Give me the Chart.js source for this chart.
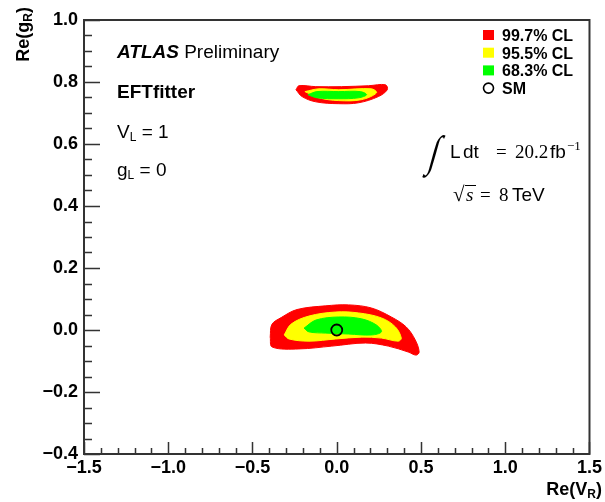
<!DOCTYPE html>
<html>
<head>
<meta charset="utf-8">
<script src="https://cdn.jsdelivr.net/npm/chart.js@4.4.0/dist/chart.umd.min.js"></script>
<style>
html, body { margin: 0; padding: 0; background: #fff; }
#wrap { width: 605px; height: 502px; }
</style>
</head>
<body>
<div id="wrap"><canvas id="chart" width="605" height="502"></canvas></div>
<script>
"use strict"

// konturer i (Re(VR), Re(gR))
const red997Low = [[-0.395,-0.023],[-0.385,0.018],[-0.33,0.040],[-0.236,0.066],[-0.065,0.078],[0.071,0.081],[0.206,0.071],[0.324,0.042],[0.412,0.010],[0.466,-0.032],[0.489,-0.071],[0.471,-0.081],[0.424,-0.071],[0.306,-0.052],[0.171,-0.042],[-0.029,-0.052],[-0.224,-0.061],[-0.383,-0.055]];
const yel955Low = [[-0.312,-0.016],[-0.271,0.019],[-0.165,0.045],[-0.006,0.058],[0.130,0.055],[0.265,0.039],[0.348,0.010],[0.383,-0.026],[0.365,-0.036],[0.265,-0.026],[0.147,-0.023],[-0.006,-0.029],[-0.165,-0.036],[-0.283,-0.029]];
const grn683Low = [[-0.194,0.006],[-0.124,0.032],[0.012,0.042],[0.147,0.036],[0.236,0.016],[0.265,-0.006],[0.206,-0.016],[0.071,-0.013],[-0.065,-0.010],[-0.165,-0.006]];

const red997High = [[-0.242,0.775],[-0.224,0.788],[-0.124,0.785],[0.029,0.785],[0.189,0.788],[0.289,0.791],[0.300,0.775],[0.247,0.753],[0.130,0.733],[0.012,0.730],[-0.124,0.736],[-0.206,0.753]];
const yel955High = [[-0.189,0.769],[-0.106,0.778],[0.012,0.775],[0.206,0.778],[0.236,0.765],[0.147,0.743],[0.012,0.740],[-0.106,0.749]];
const grn683High = [[-0.171,0.759],[-0.118,0.769],[0.012,0.769],[0.141,0.769],[0.177,0.759],[0.130,0.749],[0.012,0.746],[-0.118,0.749]];

const smPoint = [[0, 0]];

const clLabels = ['99.7% CL', '95.5% CL', '68.3% CL'];
const clColors = ['#ff0000', '#ffff00', '#00ff00'];
const smLabel = 'SM';

const xTicks = [-1.5, -1.0, -0.5, 0.0, 0.5, 1.0, 1.5];
const yTicks = [-0.4, -0.2, 0.0, 0.2, 0.4, 0.6, 0.8, 1.0];

const sans = '"Liberation Sans", Arial, sans-serif';
const serif = '"Liberation Serif", "Times New Roman", serif';
const frameColor = '#333';

function fmt(v) {
  const s = Math.abs(v).toFixed(1);
  return v < -1e-9 ? '\u2212' + s : s;
}

// en sluten kontur som fylld linje
function contour(arr, color, order) {
  const pts = arr.map(p => ({ x: p[0], y: p[1] }));
  pts.push(pts[0]);
  return {
    data: pts,
    showLine: true,
    fill: 'shape',
    backgroundColor: color,
    borderColor: color,
    borderWidth: 1,
    pointRadius: 0,
    tension: 0.35,
    order: order
  };
}

// skriv text i delar med olika typsnitt
function runs(ctx, x, y, parts) {
  let cx = x;
  for (const [t, f, dy] of parts) {
    ctx.font = f;
    ctx.fillText(t, cx, y + (dy || 0));
    cx += ctx.measureText(t).width;
  }
  return cx;
}
function runsWidth(ctx, parts) {
  let w = 0;
  for (const [t, f] of parts) { ctx.font = f; w += ctx.measureText(t).width; }
  return w;
}

const framePlugin = {
  id: 'frame',
  afterDraw(chart) {
    const ctx = chart.ctx;
    const a = chart.chartArea;
    const xs = chart.scales.x, ys = chart.scales.y;
    ctx.save();
    ctx.strokeStyle = frameColor;
    ctx.lineWidth = 1.5;
    // små och stora streck
    ctx.beginPath();
    for (let i = 0; i <= 30; i++) {
      const px = Math.round(xs.getPixelForValue(-1.5 + i * 0.1)) + 0.5;
      const len = i % 5 === 0 ? 12 : 6;
      ctx.moveTo(px, a.bottom);
      ctx.lineTo(px, a.bottom - len);
    }
    for (let i = 0; i <= 28; i++) {
      const py = Math.round(ys.getPixelForValue(-0.4 + i * 0.05)) + 0.5;
      const len = i % 4 === 0 ? 16 : 8;
      ctx.moveTo(a.left, py);
      ctx.lineTo(a.left + len, py);
    }
    ctx.stroke();
    ctx.lineWidth = 2;
    ctx.strokeRect(a.left, a.top, a.right - a.left, a.bottom - a.top);

    ctx.fillStyle = '#000';
    ctx.textBaseline = 'alphabetic';
    ctx.textAlign = 'left';

    // vänstra texterna
    runs(ctx, 117, 58, [['ATLAS', 'italic bold 19px ' + sans], [' Preliminary', '19px ' + sans]]);
    runs(ctx, 117, 98, [['EFTfitter', 'bold 19px ' + sans]]);
    runs(ctx, 117, 138, [['V', '19px ' + sans], ['L', '12px ' + sans, 3], [' = 1', '19px ' + sans]]);
    runs(ctx, 117, 176, [['g', '19px ' + sans], ['L', '12px ' + sans, 3], [' = 0', '19px ' + sans]]);

    // integral och energi
    ctx.save();
    ctx.translate(427, 166);
    ctx.transform(1, 0, -0.28, 1, 0, 0);
    ctx.scale(1.1, 1.55);
    ctx.font = '28px ' + serif;
    ctx.fillText('\u222B', 0, 0);
    ctx.restore();
    ctx.font = '19px ' + sans;
    ctx.fillText('L', 450, 158);
    ctx.fillText('dt', 463, 158);
    ctx.font = '19px ' + serif;
    ctx.fillText('=', 496, 158);
    ctx.fillText('20.2', 515, 158);
    ctx.font = '19px ' + sans;
    ctx.fillText('fb', 550, 158);
    ctx.font = '13px ' + serif;
    ctx.fillText('\u22121', 567, 150);

    ctx.font = '21px ' + serif;
    ctx.fillText('\u221A', 453, 201);
    ctx.lineWidth = 1;
    ctx.strokeStyle = '#000';
    ctx.beginPath();
    ctx.moveTo(465, 185.5);
    ctx.lineTo(476, 185.5);
    ctx.stroke();
    ctx.font = 'italic 19px ' + serif;
    ctx.fillText('s', 466, 201);
    ctx.font = '19px ' + serif;
    ctx.fillText('=', 480, 201);
    ctx.fillText('8', 499, 201);
    ctx.font = '19px ' + sans;
    ctx.fillText('TeV', 512, 201);

    // förklaring
    const lf = 'bold 16px ' + sans;
    ctx.font = lf;
    clLabels.forEach((lab, i) => {
      const cy = 35 + i * 17.7;
      ctx.fillStyle = clColors[i];
      ctx.fillRect(483, cy - 5, 11, 10);
      ctx.fillStyle = '#000';
      ctx.fillText(lab, 502, cy + 6);
    });
    const sy = 35 + 3 * 17.7;
    ctx.beginPath();
    ctx.arc(488.5, sy, 5, 0, Math.PI * 2);
    ctx.lineWidth = 1.6;
    ctx.strokeStyle = '#000';
    ctx.stroke();
    ctx.fillText(smLabel, 502, sy + 6);

    // axeltitlar
    const xt = [['Re(V', 'bold 18px ' + sans], ['R', 'bold 12px ' + sans, 3], [')', 'bold 18px ' + sans]];
    runs(ctx, 602 - runsWidth(ctx, xt), 495, xt);
    const yt = [['Re(g', 'bold 18px ' + sans], ['R', 'bold 12px ' + sans, 3], [')', 'bold 18px ' + sans]];
    const yw = runsWidth(ctx, yt);
    ctx.save();
    ctx.translate(29, 7 + yw);
    ctx.rotate(-Math.PI / 2);
    runs(ctx, 0, 0, yt);
    ctx.restore();
    ctx.restore();
  }
};

new Chart(document.getElementById('chart'), {
  type: 'scatter',
  data: {
    datasets: [
      {
        data: smPoint.map(p => ({ x: p[0], y: p[1] })),
        pointRadius: 5.5,
        pointBorderWidth: 1.8,
        borderColor: '#000',
        backgroundColor: 'rgba(0,0,0,0)',
        order: 0
      },
      contour(grn683Low, clColors[2], 1),
      contour(grn683High, clColors[2], 1),
      contour(yel955Low, clColors[1], 2),
      contour(yel955High, clColors[1], 2),
      contour(red997Low, clColors[0], 3),
      contour(red997High, clColors[0], 3)
    ]
  },
  options: {
    responsive: false,
    animation: false,
    events: [],
    layout: { padding: { top: 20, right: 13, left: 0, bottom: 0 } },
    plugins: { legend: { display: false }, tooltip: { enabled: false } },
    scales: {
      x: {
        type: 'linear',
        min: -1.5,
        max: 1.5,
        afterBuildTicks: s => { s.ticks = xTicks.map(v => ({ value: v })); },
        afterFit: s => { s.height = 48; },
        grid: { display: false, drawTicks: false },
        border: { display: false },
        ticks: {
          autoSkip: false,
          maxRotation: 0,
          padding: 3,
          color: '#000',
          font: { family: sans, size: 18, weight: 'bold' },
          callback: v => fmt(v)
        }
      },
      y: {
        type: 'linear',
        min: -0.4,
        max: 1.0,
        afterBuildTicks: s => { s.ticks = yTicks.map(v => ({ value: v })); },
        afterFit: s => { s.width = 84; },
        grid: { display: false, drawTicks: false },
        border: { display: false },
        ticks: {
          autoSkip: false,
          padding: 6,
          color: '#000',
          font: { family: sans, size: 18, weight: 'bold' },
          callback: v => fmt(v)
        }
      }
    }
  },
  plugins: [framePlugin]
});
</script>
</body>
</html>
